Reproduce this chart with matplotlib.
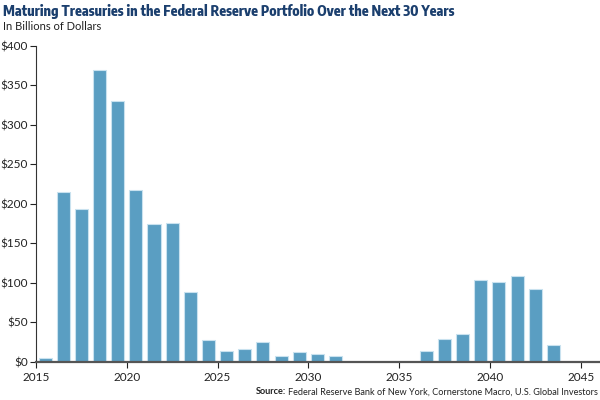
import matplotlib
matplotlib.use("Agg")
import matplotlib.pyplot as plt
from matplotlib.ticker import FuncFormatter

# maturing treasuries by year (billions of dollars)
years = [2015, 2016, 2017, 2018, 2019, 2020, 2021, 2022, 2023, 2024, 2025, 2026,
         2027, 2028, 2029, 2030, 2031, 2036, 2037, 2038, 2039, 2040, 2041, 2042, 2043]
values = [5, 215, 193, 369, 330, 217, 175, 176, 88, 27, 13, 16,
          25, 7, 12, 10, 7, 13, 29, 35, 104, 101, 109, 92, 21]
xticks = [2015, 2020, 2025, 2030, 2035, 2040, 2045]
yticks = [0, 50, 100, 150, 200, 250, 300, 350, 400]

plt.rcParams['font.family'] = ['Lato', 'DejaVu Sans']

fig = plt.figure(figsize=(6, 4), dpi=100)
ax = fig.add_axes([0.06, 0.096, 0.938, 0.789])

ax.bar([y + 0.5 for y in years], values, width=0.72, color='#5a9ec2',
       edgecolor='#c9e2ef', linewidth=0.8, zorder=2)

ax.set_xlim(2015, 2046)
ax.set_ylim(0, 400)
ax.set_xticks(xticks)
ax.set_yticks(yticks)
ax.yaxis.set_major_formatter(FuncFormatter(lambda v, p: '$%d' % v))

for s in ['top', 'right']:
    ax.spines[s].set_visible(False)
ax.spines['left'].set_color('#333333')
ax.spines['left'].set_linewidth(0.8)
ax.spines['bottom'].set_color('#555555')
ax.spines['bottom'].set_linewidth(1.6)
ax.spines['bottom'].set_zorder(3)
ax.tick_params(axis='both', labelsize=8.5, colors='#222222', length=4, width=0.8, direction='out')
ax.tick_params(axis='y', pad=2)

fig.text(0.005, 0.972, 'Maturing Treasuries in the Federal Reserve Portfolio Over the Next 30 Years',
         fontsize=10, fontweight=800, family=['Encode Sans Condensed', 'DejaVu Sans'],
         color='#1b3f6e', va='center', ha='left')
fig.text(0.005, 0.933, 'In Billions of Dollars', fontsize=8, color='#222222', va='center', ha='left')

src_text = fig.text(0.997, 0.02, 'Federal Reserve Bank of New York, Cornerstone Macro, U.S. Global Investors',
                    fontsize=6.6, color='#222222', ha='right', va='center')
fig.canvas.draw()
bb = src_text.get_window_extent(renderer=fig.canvas.get_renderer())
x0 = bb.x0 / fig.bbox.width
fig.text(x0 - 0.004, 0.02, 'Source:', fontsize=6.6, fontweight='bold', color='#222222',
         ha='right', va='center')

fig.savefig('out.png', dpi=100)
